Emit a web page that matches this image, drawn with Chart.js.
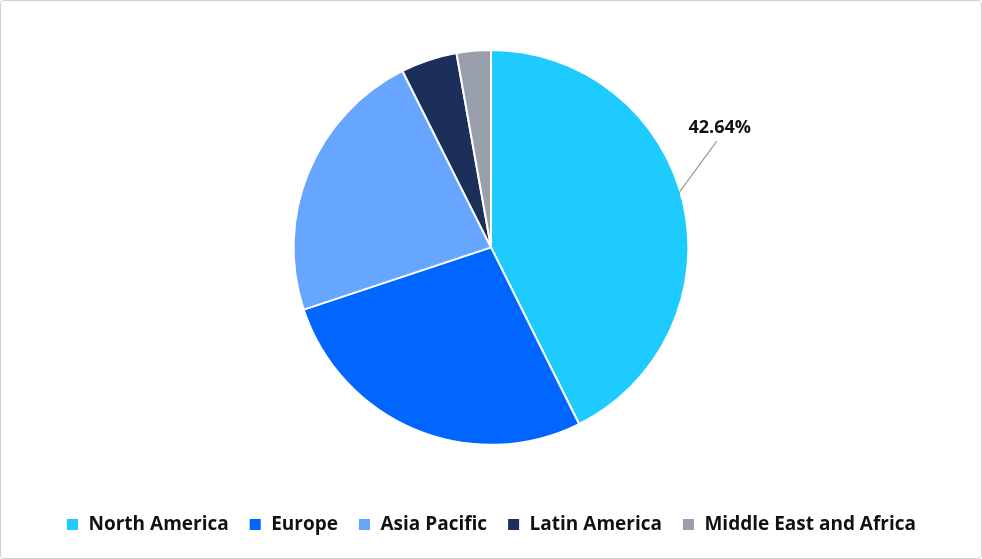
<!DOCTYPE html>
<html><head><script src="https://cdn.jsdelivr.net/npm/chart.js@4/dist/chart.umd.min.js"></script>
<style>html,body{margin:0;padding:0;background:#fff}#w{position:absolute;left:0;top:0;width:980px;height:557px;border:1px solid #d0d0d0;border-radius:4px}</style>
</head><body><div id="w"><canvas id="c"></canvas></div>
<script>
const categories=["North America","Europe","Asia Pacific","Latin America","Middle East and Africa"];
const values=[42.64,27.26,22.7,4.6,2.8];
const colors=["#1ECBFF","#0066FF","#66A6FF","#1B2F5A","#9AA0AB"];
const labelPlugin={id:'lbl',afterDatasetsDraw(chart){
  const arc=chart.getDatasetMeta(0).data[0];const ctx=chart.ctx;
  const a=(arc.startAngle+arc.endAngle)/2-0.05;
  const x1=arc.x+Math.cos(a)*arc.outerRadius*0.99,y1=arc.y+Math.sin(a)*arc.outerRadius*0.99;
  const x2=x1+38,y2=y1-52;
  ctx.save();ctx.strokeStyle='#999';ctx.lineWidth=1.2;ctx.beginPath();ctx.moveTo(x1,y1);ctx.lineTo(x2,y2);ctx.stroke();
  ctx.fillStyle='#111';ctx.font='bold 18px "Open Sans"';ctx.textAlign='center';ctx.textBaseline='bottom';
  ctx.fillText(values[0].toFixed(2)+'%',x2+3,y2-4);ctx.restore();}};
new Chart(document.getElementById('c'),{type:'pie',
 data:{labels:categories,datasets:[{data:values,backgroundColor:colors,borderColor:'#fff',borderWidth:2}]},
 options:{responsive:true,maintainAspectRatio:false,animation:false,
  layout:{padding:{top:48,bottom:14}},
  plugins:{tooltip:{enabled:false},legend:{position:'bottom',
   title:{display:true,text:' ',font:{size:1},padding:{top:48,bottom:0}},
   labels:{boxWidth:13,boxHeight:13,padding:20,color:'#111',font:{family:'"Open Sans"',size:19,weight:'bold'}}}}},
 plugins:[labelPlugin]});
</script></body></html>
